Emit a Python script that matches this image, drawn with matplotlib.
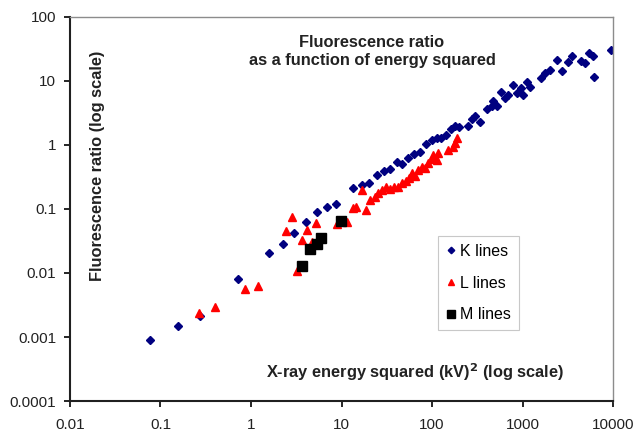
import numpy as np
import matplotlib
matplotlib.use('Agg')
import matplotlib.pyplot as plt

plt.rcParams['font.family'] = ['Liberation Sans', 'DejaVu Sans']

k_x = [0.0766, 0.156, 0.273, 0.718, 1.58, 2.26, 2.99, 4.05, 5.36, 6.92, 8.69,
       13.4, 16.9, 20.1, 24.7, 29.5, 34.4, 41.0, 46.6, 54.3, 63.2, 73.7, 85.9,
       100, 114, 126, 143, 162, 180, 199, 250, 277, 299, 339, 405, 460, 523,
       472, 578, 641, 691, 785, 869, 962, 1010, 1120, 1210, 1600, 1770, 2010,
       2410, 2730, 3180, 3520, 4430, 4910, 5430, 6010, 6170, 9500]
k_y = [0.0009, 0.00149, 0.00213, 0.00805, 0.0205, 0.0284, 0.0422, 0.0626,
       0.0898, 0.107, 0.120, 0.213, 0.237, 0.255, 0.340, 0.393, 0.422, 0.543,
       0.505, 0.626, 0.723, 0.778, 1.04, 1.20, 1.29, 1.29, 1.43, 1.78, 1.98,
       1.91, 1.98, 2.55, 2.84, 2.29, 3.65, 4.07, 4.07, 4.87, 6.73, 5.42, 6.04,
       8.66, 6.49, 7.78, 6.04, 9.64, 8.06, 11.1, 13.3, 14.9, 21.3, 14.3, 19.8,
       24.6, 20.5, 19.1, 27.4, 24.6, 11.5, 30.5]

l_x = [0.266, 0.400, 0.859, 1.19, 2.84, 2.44, 3.22, 3.66, 4.16, 5.23, 4.72,
       8.92, 11.5, 13.4, 14.5, 16.9, 18.7, 20.6, 23.5, 25.3, 28.0, 31.0, 34.4,
       38.0, 42.1, 46.6, 51.6, 55.7, 60.1, 64.9, 70.0, 77.6, 83.7, 90.3, 100,
       103, 114, 117, 150, 171, 180, 189]
l_y = [0.00237, 0.00294, 0.00562, 0.00626, 0.075, 0.0453, 0.0107, 0.0328,
       0.0469, 0.0604, 0.0305, 0.0583, 0.0626, 0.104, 0.107, 0.198, 0.0964,
       0.138, 0.154, 0.178, 0.198, 0.221, 0.205, 0.221, 0.221, 0.255, 0.274,
       0.305, 0.365, 0.328, 0.407, 0.453, 0.437, 0.523, 0.604, 0.698, 0.583,
       0.75, 0.836, 0.931, 1.07, 1.29]

m_x = [3.66, 4.49, 5.36, 5.93, 9.87]
m_y = [0.0129, 0.0237, 0.0284, 0.0352, 0.0649]

x_ticks = [0.01, 0.1, 1, 10, 100, 1000, 10000]
x_labels = ['0.01', '0.1', '1', '10', '100', '1000', '10000']
y_ticks = [0.0001, 0.001, 0.01, 0.1, 1, 10, 100]
y_labels = ['0.0001', '0.001', '0.01', '0.1', '1', '10', '100']

# ---------------------------------- FIGURE ----------------------------------- #
fig = plt.figure(figsize=(6.36, 4.34), dpi=100)
ax = fig.add_axes((0.110, 0.076, 0.854, 0.885))

ax.plot(k_x, k_y, linestyle='None', marker='D', markersize=4.4, color='#000080',
        label='K lines')
ax.plot(l_x, l_y, linestyle='None', marker='^', markersize=5.5, color='#ff0000',
        label='L lines')
ax.plot(m_x, m_y, linestyle='None', marker='s', markersize=7, color='black',
        label='M lines')

ax.set_xscale('log')
ax.set_yscale('log')
ax.set_xlim(0.01, 10000)
ax.set_ylim(0.0001, 100)
ax.set_xticks(x_ticks)
ax.set_xticklabels(x_labels)
ax.set_yticks(y_ticks)
ax.set_yticklabels(y_labels)
ax.minorticks_off()
ax.tick_params(axis='both', direction='out', length=4, width=1.2, labelsize=11,
               color='black', labelcolor='#222222')
ax.tick_params(axis='x', pad=8)
ax.tick_params(axis='y', pad=6)

for side in ('left', 'bottom'):
    ax.spines[side].set_linewidth(1.5)
    ax.spines[side].set_color('#202020')
for side in ('top', 'right'):
    ax.spines[side].set_linewidth(1.0)
    ax.spines[side].set_color('#8c8c8c')

ax.text(0.556, 0.91, 'Fluorescence ratio\nas a function of energy squared',
        transform=ax.transAxes, ha='center', va='center', fontsize=11.8,
        fontweight='bold', color='#222222', linespacing=1.3)
ax.text(0.635, 0.0755, 'X-ray energy squared (kV)$^\\mathbf{2}$ (log scale)',
        transform=ax.transAxes, ha='center', va='center', fontsize=11.8,
        fontweight='bold', color='#222222')
ax.text(0.05, 0.612, 'Fluorescence ratio (log scale)', transform=ax.transAxes,
        ha='center', va='center', rotation=90, fontsize=11.8, fontweight='bold',
        color='#222222')

leg = ax.legend(loc='upper left', bbox_to_anchor=(0.678, 0.43), borderaxespad=0,
                fancybox=False, edgecolor='#c8c8c8', framealpha=1, fontsize=11.5,
                labelspacing=1.05, handletextpad=0.25, handlelength=0.6,
                borderpad=0.5, markerscale=0.75)
leg.get_frame().set_linewidth(0.8)

fig.savefig('out.png', dpi=100)
